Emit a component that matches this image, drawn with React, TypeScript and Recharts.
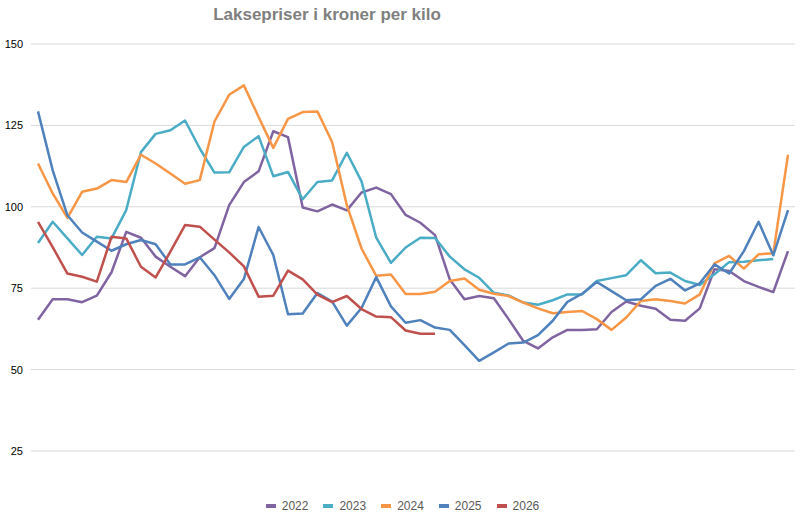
import React from 'react';
import { LineChart, Line, XAxis, YAxis, CartesianGrid } from 'recharts';

const weeks = [
  '1', '2', '3', '4', '5', '6', '7', '8', '9', '10', '11', '12', '13',
  '14', '15', '16', '17', '18', '19', '20', '21', '22', '23', '24', '25', '26',
  '27', '28', '29', '30', '31', '32', '33', '34', '35', '36', '37', '38', '39',
  '40', '41', '42', '43', '44', '45', '46', '47', '48', '49', '50', '51', '52',
];

const y2022 = [
  65.3, 71.6, 71.6, 70.7, 72.7, 79.9, 92.3, 90.5, 84.7, 81.6, 78.7, 84.5, 87.3,
  100.5, 107.6, 110.9, 123.2, 121.4, 99.8, 98.6, 100.7, 98.9, 104.4, 105.9, 103.9, 97.5,
  95.1, 91.3, 77.7, 71.6, 72.6, 71.9, 65.5, 58.8, 56.5, 59.9, 62.2, 62.2, 62.4,
  67.7, 70.9, 69.6, 68.7, 65.3, 65.0, 68.8, 80.8, 80.3, 77.2, 75.4, 73.8, 86.4,
];

const y2023 = [
  88.9, 95.4, 90.3, 85.2, 90.8, 90.3, 99.0, 116.8, 122.4, 123.5, 126.5, 117.9, 110.5,
  110.6, 118.4, 121.7, 109.4, 110.7, 102.3, 107.6, 108.1, 116.6, 107.8, 90.5, 82.8, 87.5,
  90.5, 90.4, 84.7, 80.8, 78.2, 73.6, 72.8, 70.6, 69.9, 71.3, 73.1, 73.1, 77.2,
  78.1, 79.0, 83.6, 79.6, 79.8, 77.2, 76.0, 79.3, 83.0, 83.1, 83.6, 84.0, null,
];

const y2024 = [
  113.3, 104.1, 96.6, 104.6, 105.6, 108.2, 107.6, 116.0, 113.3, 110.2, 107.1, 108.2, 126.2,
  134.4, 137.3, 127.6, 118.1, 127.0, 129.1, 129.3, 119.9, 100.5, 87.2, 78.8, 79.2, 73.2,
  73.2, 73.9, 77.2, 78.0, 74.5, 73.3, 72.6, 70.6, 68.8, 67.3, 67.7, 68.0, 65.5,
  62.2, 66.0, 71.1, 71.6, 71.1, 70.3, 73.1, 82.6, 84.9, 81.0, 85.4, 85.7, 116.0,
];

const y2025 = [
  129.3, 111.2, 97.4, 92.1, 89.3, 86.5, 88.5, 89.8, 88.5, 82.3, 82.3, 84.5, 79.0,
  71.7, 77.8, 93.8, 85.2, 67.0, 67.2, 73.5, 70.9, 63.5, 68.9, 78.4, 69.4, 64.4,
  65.2, 62.9, 62.2, 57.5, 52.7, 55.3, 58.0, 58.3, 60.6, 65.0, 70.8, 73.3, 76.9,
  74.1, 71.3, 71.6, 75.7, 77.9, 74.3, 76.5, 82.3, 79.5, 86.4, 95.4, 85.1, 99.0,
];

const y2026 = [
  95.4, 87.6, 79.5, 78.5, 77.0, 90.8, 90.3, 81.6, 78.3, 86.2, 94.4, 93.9, 89.9,
  86.0, 81.7, 72.4, 72.7, 80.4, 77.7, 73.0, 70.7, 72.6, 68.6, 66.3, 66.1, 62.0,
  61.0, 61.0,
];

const yTicks = [25, 50, 75, 100, 125, 150];

const series = [
  { key: '2022', color: '#8064a2', values: y2022 },
  { key: '2023', color: '#4bacc6', values: y2023 },
  { key: '2024', color: '#f79646', values: y2024 },
  { key: '2025', color: '#4f81bd', values: y2025 },
  { key: '2026', color: '#c0504d', values: y2026 },
];

const data = weeks.map((w, i) => {
  const row: Record<string, any> = { week: w };
  series.forEach((s) => {
    const v = s.values[i];
    row[s.key] = v === undefined ? null : v;
  });
  return row;
});

const font = '"Liberation Sans", Arial, sans-serif';

export default function App() {
  return (
    <div
      style={{
        position: 'absolute',
        left: 0,
        top: 0,
        width: 805,
        height: 527,
        background: '#ffffff',
        fontFamily: font,
      }}
    >
      <div
        style={{
          position: 'absolute',
          left: 0,
          top: 5,
          width: 654,
          textAlign: 'center',
          fontSize: 17,
          lineHeight: '20px',
          fontWeight: 'bold',
          color: '#7f7f7f',
        }}
      >
        Laksepriser i kroner per kilo
      </div>
      <LineChart
        width={805}
        height={527}
        data={data}
        margin={{ top: 44, right: 10, bottom: 76, left: 0 }}
      >
        <CartesianGrid horizontal vertical={false} stroke="#d9d9d9" strokeWidth={1} />
        <XAxis dataKey="week" hide padding={{ left: 7, right: 7 }} />
        <YAxis
          width={31}
          domain={[25, 150]}
          ticks={yTicks}
          axisLine={false}
          tickLine={false}
          tick={{ fontSize: 11, fill: '#000000', fontFamily: font }}
        />
        {series.map((s) => (
          <Line
            key={s.key}
            type="linear"
            dataKey={s.key}
            stroke={s.color}
            strokeWidth={2.5}
            strokeLinejoin="round"
            dot={false}
            activeDot={false}
            isAnimationActive={false}
          />
        ))}
      </LineChart>
      <div
        style={{
          position: 'absolute',
          left: 0,
          top: 498,
          width: 805,
          display: 'flex',
          justifyContent: 'center',
          gap: 15,
          fontSize: 12,
          lineHeight: '16px',
          color: '#595959',
        }}
      >
        {series.map((s) => (
          <div key={s.key} style={{ display: 'flex', alignItems: 'center' }}>
            <span
              style={{
                display: 'inline-block',
                width: 10,
                height: 4,
                background: s.color,
                marginRight: 6,
              }}
            />
            <span>{s.key}</span>
          </div>
        ))}
      </div>
    </div>
  );
}
